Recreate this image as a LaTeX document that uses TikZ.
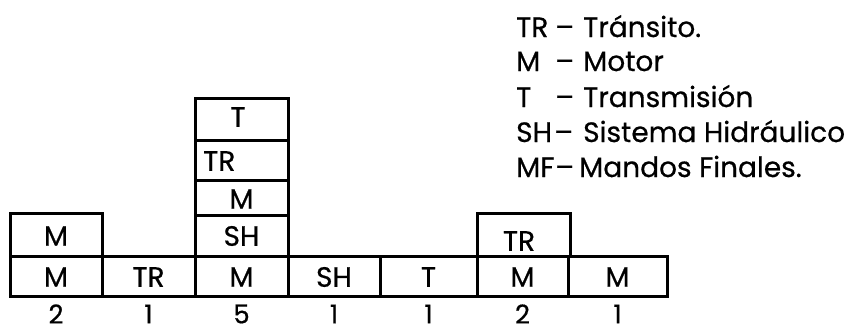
\documentclass[tikz,border=0pt]{standalone}
\usepackage{fontspec}
\setmainfont{Poppins}[FakeBold=0.6]
\begin{document}
\begin{tikzpicture}[x=1pt,y=-1pt,
  cell/.style={draw=black,line width=3pt,inner sep=0pt},
  lab/.style={font=\fontsize{28}{28}\selectfont,inner sep=0pt,anchor=center},
  num/.style={font=\fontsize{26}{26}\selectfont,inner sep=0pt,anchor=center},
  leg/.style={font=\fontsize{28}{28}\selectfont,inner sep=0pt,anchor=base west}]
\useasboundingbox (0,0) rectangle (851,330);
% bottom row
\foreach \xa/\xb/\t/\n/\id in {10/102/M/2/a,102/195/TR/1/b,195/288/M/5/c,288/380/SH/1/d,380/477/T/1/e,477/568/M/2/f,568/667/M/1/g}{
  \draw[cell] (\xa,256) rectangle (\xb,296);
  \node[lab] (b\id) at ({(\xa+\xb)/2},277) {\t};
  \node[num] (n\id) at ({(\xa+\xb)/2},314) {\n};
}
% second row
\draw[cell] (10,213) rectangle (102,256);
\node[lab] (u1) at (56,236) {M};
\draw[cell] (195,215) rectangle (288,256);
\node[lab] (u3) at (241.5,236) {SH};
\draw[cell] (477,213) rectangle (570,256);
\node[lab] (u6) at (519,241) {TR};
% stack
\draw[cell] (195,180) rectangle (288,215);
\node[lab] (s1) at (241.5,199) {M};
\draw[cell] (195,140) rectangle (288,180);
\node[lab,anchor=west] (s2) at (203,161) {TR};
\draw[cell] (195,98) rectangle (288,140);
\node[lab] (s3) at (238,117) {T};
% legend
\foreach \y/\a/\d/\t/\dx/\tx in {37/TR/–/Tránsito./555/583,71/M/–/Motor/555/583,107/T/–/Transmisión/555/583,142/SH/–/Sistema Hidráulico/554/583,177/MF/–/Mandos Finales./555/579}{
  \node[leg] at (516,\y) {\a};
  \node[leg] at (\dx,\y) {\d};
  \node[leg] at (\tx,\y) {\t};
}
\end{tikzpicture}
\end{document}
